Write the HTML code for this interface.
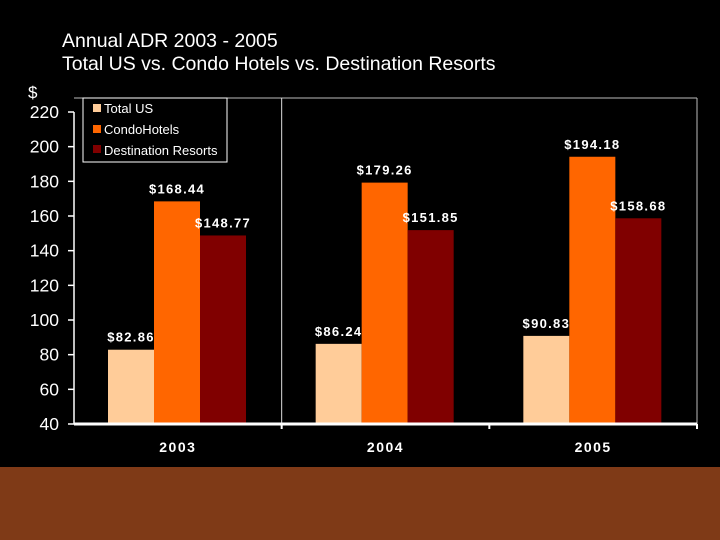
<!DOCTYPE html>
<html><head><meta charset="utf-8"><style>
html,body{margin:0;padding:0;background:#000;}
svg{display:block;font-family:"Liberation Sans",Arial,sans-serif;}
</style></head><body>
<svg width="720" height="540">
<rect x="0" y="0" width="720" height="540" fill="#000"/>
<rect x="0" y="467" width="720" height="73" fill="#7f3a17"/>
<text x="62" y="47" fill="#fff" font-size="19.5">Annual ADR 2003 - 2005</text>
<text x="62" y="70" fill="#fff" font-size="19.5">Total US vs. Condo Hotels vs. Destination Resorts</text>
<text x="28" y="98" fill="#fff" font-size="17">$</text>
<g id="plot"></g>
<g>
<rect x="83" y="98" width="144" height="64" fill="#000" stroke="#fff" stroke-width="1"/>
<rect x="93" y="104" width="8" height="8" fill="#ffcc99"/>
<text x="104" y="113" fill="#fff" font-size="13">Total US</text>
<rect x="93" y="125" width="8" height="8" fill="#ff6600"/>
<text x="104" y="134" fill="#fff" font-size="13">CondoHotels</text>
<rect x="93" y="145" width="8" height="8" fill="#800000"/>
<text x="104" y="155" fill="#fff" font-size="13">Destination Resorts</text>
</g>
</svg>
<script>
const categories = ["2003","2004","2005"];
const totalUS = [82.86, 86.24, 90.83];
const condoHotels = [168.44, 179.26, 194.18];
const destResorts = [148.77, 151.85, 158.68];
const yTicks = [40,60,80,100,120,140,160,180,200,220];

const NS="http://www.w3.org/2000/svg";
const g=document.getElementById('plot');
const x0=74, x1=697, yTop=98, yBase=424;
const yMin=40, yMax=220, yMaxPx=112;
const y=v=>yBase-(v-yMin)*(yBase-yMaxPx)/(yMax-yMin);
const catW=(x1-x0)/categories.length;
function mk(tag,attrs){const e=document.createElementNS(NS,tag);for(const k in attrs)e.setAttribute(k,attrs[k]);g.appendChild(e);return e;}

let e;
e=mk('line',{x1:x0,y1:yTop,x2:x1,y2:yTop,stroke:'#bbb','stroke-width':1});


e=mk('line',{x1:x1,y1:yTop,x2:x1,y2:yBase,stroke:'#bbb','stroke-width':1});


e=mk('line',{x1:x0+catW,y1:yTop,x2:x0+catW,y2:yBase,stroke:'#ddd','stroke-width':1});



const series=[[totalUS,'#ffcc99','total-us'],[condoHotels,'#ff6600','condo-hotels'],[destResorts,'#800000','destination-resorts']];
const bw=46, off=34;
categories.forEach((c,i)=>{
  series.forEach((s,j)=>{
    const v=s[0][i];
    const bx=x0+i*catW+off+j*bw;
    const r=mk('rect',{x:bx,y:y(v),width:bw,height:yBase-y(v),fill:s[1]});
    
    
    const t=mk('text',{x:bx+bw/2,y:y(v)-8,fill:'#fff','font-size':13,'font-weight':'bold','text-anchor':'middle','letter-spacing':'1.3'});
    t.textContent='$'+v.toFixed(2);
    
    
  });
  const t=mk('text',{x:x0+i*catW+catW/2,y:452,fill:'#fff','font-size':14,'font-weight':'bold','text-anchor':'middle','letter-spacing':'1.5'});
  t.textContent=c;
  
  
  const tk=mk('line',{x1:x0+(i+1)*catW,y1:yBase,x2:x0+(i+1)*catW,y2:yBase+5,stroke:'#fff','stroke-width':2});
  
  
});

e=mk('line',{x1:x0,y1:yMaxPx,x2:x0,y2:yBase,stroke:'#fff','stroke-width':1.5});


e=mk('line',{x1:x0,y1:yBase,x2:x1,y2:yBase,stroke:'#fff','stroke-width':3});



yTicks.forEach(v=>{
  const l=mk('line',{x1:x0-6,y1:y(v),x2:x0,y2:y(v),stroke:'#fff','stroke-width':1.5});
  
  
  const t=mk('text',{x:x0-15,y:y(v)+6,fill:'#fff','font-size':17.5,'text-anchor':'end'});
  t.textContent=v;
  
  
});
</script>
</body></html>
